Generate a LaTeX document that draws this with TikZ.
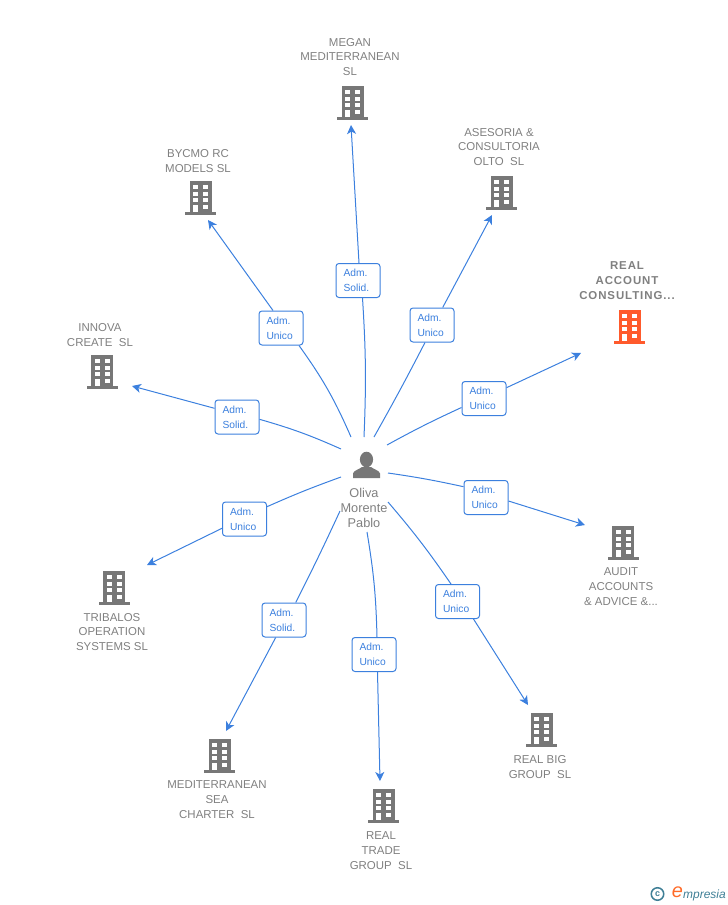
\documentclass[tikz,border=0pt]{standalone}
\usepackage{fontspec}
\setmainfont{Liberation Sans}
\newfontfamily\hotfont[LetterSpace=8]{Liberation Sans}
\usetikzlibrary{positioning}
\usetikzlibrary{arrows.meta}
\definecolor{linkblue}{HTML}{3C80DE}
\definecolor{bldggray}{HTML}{777777}
\definecolor{txtgray}{HTML}{808080}
\definecolor{hotorange}{HTML}{FF5A2C}
\definecolor{logoteal}{HTML}{3F7F96}
\tikzset{
    tagbox/.style = {rectangle, draw=linkblue, line width=1bp, fill=white, rounded corners=3pt, minimum width = 44bp, minimum height = 34bp, inner sep=0pt, text width=29bp, align=left, text=linkblue, font=\fontsize{10.3}{15}\selectfont},
    compname/.style = {align=center, text=txtgray, font=\fontsize{11.5}{15}\selectfont},
    comphot/.style = {align=center, text=txtgray, font=\hotfont\fontsize{11.5}{15}\bfseries\selectfont},
    persname/.style = {align=center, text=txtgray, font=\fontsize{12.8}{15}\selectfont},
    edgep/.style = {linkblue, line width=1bp},
    edgea/.style = {-{Stealth[length=9bp,width=9bp,inset=2.5bp]},linkblue, line width=1bp},
    pics/bldg/.style = {code={
        \fill[#1] (-11,-17) rectangle (11,14);
        \fill[#1] (-15.5,14) rectangle (15.5,17);
        \foreach \wy in {-13,-6.4,0.2}{
            \fill[white] (-7.5,\wy) rectangle (-2.5,\wy+4);
            \fill[white] (2.5,\wy) rectangle (7.5,\wy+4);
        }
        \fill[white] (-7.5,7) rectangle (-2.5,14);
        \fill[white] (2.5,7) rectangle (7.5,11);
    }}
}
\begin{document}
\begin{tikzpicture}[x=1bp,y=-1bp]
\useasboundingbox (0,0) rectangle (728,905);
% companies
\pic at (352.5,103) {bldg=bldggray};
\pic at (501.5,193) {bldg=bldggray};
\pic at (629.5,327) {bldg=hotorange};
\pic at (200.5,198) {bldg=bldggray};
\pic at (102,372) {bldg=bldggray};
\pic at (114,588) {bldg=bldggray};
\pic at (219.5,756) {bldg=bldggray};
\pic at (383.5,806) {bldg=bldggray};
\pic at (541.5,730) {bldg=bldggray};
\pic at (623,543) {bldg=bldggray};
\node[compname] at (350,57) (megan) {MEGAN\\MEDITERRANEAN\\SL};
\node[compname] at (499,147) (asesoria) {ASESORIA \&\\CONSULTORIA\\OLTO~ SL};
\node[comphot] at (627,281) (real) {REAL\\ACCOUNT\\CONSULTING...};
\node[compname] at (198,161) (bycmo) {BYCMO RC\\MODELS SL};
\node[compname] at (100,335) (innova) {INNOVA\\CREATE~ SL};
\node[compname] at (112,632) (tribalos) {TRIBALOS\\OPERATION\\SYSTEMS SL};
\node[compname] at (217,800) (medit) {MEDITERRANEAN\\SEA\\CHARTER~ SL};
\node[compname] at (381,851) (trade) {REAL\\TRADE\\GROUP~ SL};
\node[compname] at (540,767) (big) {REAL BIG\\GROUP~ SL};
\node[compname] at (621,587) (audit) {AUDIT\\ACCOUNTS\\\& ADVICE \&...};
% person
\fill[bldggray] (366.5,459.5) ellipse (6.6 and 7.8);
\fill[bldggray] (353,478) -- (353,473.5) .. controls (353.5,470.5) and (359,469.5) .. (362,467) -- (371,467) .. controls (374,469.5) and (379.5,470.5) .. (380,473.5) -- (380,478) -- cycle;
\node[persname] at (364,508) (oliva) {Oliva\\Morente\\Pablo};
% tags
\node[tagbox] at (358,280.5) (t1) {Adm.\\Solid.};
\node[tagbox] at (432,325) (t2) {Adm.\\Unico};
\node[tagbox] at (484,398.5) (t3) {Adm.\\Unico};
\node[tagbox] at (486,497.5) (t4) {Adm.\\Unico};
\node[tagbox] at (457.5,601.5) (t5) {Adm.\\Unico};
\node[tagbox] at (374,654.5) (t6) {Adm.\\Unico};
\node[tagbox] at (284,620) (t7) {Adm.\\Solid.};
\node[tagbox] at (244.5,519) (t8) {Adm.\\Unico};
\node[tagbox] at (237,417) (t9) {Adm.\\Solid.};
\node[tagbox] at (281,328) (t10) {Adm.\\Unico};
% ends
\coordinate (s1) at (364,437);
\coordinate (s2) at (374,437);
\coordinate (s3) at (387,445);
\coordinate (s4) at (388,473);
\coordinate (s5) at (388,502);
\coordinate (s6) at (367,532);
\coordinate (s7) at (340,511);
\coordinate (s8) at (341,477);
\coordinate (s9) at (341,449);
\coordinate (s10) at (351,437);
\coordinate (e1) at (351,125);
\coordinate (e2) at (492,215);
\coordinate (e3) at (581,353);
\coordinate (e4) at (585,525);
\coordinate (e5) at (528,705);
\coordinate (e6) at (380,781);
\coordinate (e7) at (226,731);
\coordinate (e8) at (147,565);
\coordinate (e9) at (132,386);
\coordinate (e10) at (208,220);
%
\draw[edgep] (s1) to[bend right=3] ([xshift=4.5bp]t1.south);
\draw[edgep] (s2) to[bend right=1] ([xshift=-7bp]t2.south);
\draw[edgep] (s3) to[bend left=2] ([yshift=-9bp]t3.west);
\draw[edgep] (s4) to[bend left=2] ([yshift=10.8bp]t4.west);
\draw[edgep] (s5) to[bend left=3] ([xshift=-6.5bp]t5.north);
\draw[edgep] (s6) to[bend left=4] ([xshift=3bp]t6.north);
\draw[edgep] (s7) to[bend left=1] ([xshift=11.7bp]t7.north);
\draw[edgep] (s8) to[bend right=2] ([yshift=12.3bp]t8.east);
\draw[edgep] (s9) to[bend right=4] ([yshift=-2.3bp]t9.east);
\draw[edgep] (s10) to[bend right=6] ([xshift=18bp]t10.south);
\draw[edgea] ([xshift=1bp]t1.north) -- (e1);
\draw[edgea] ([xshift=10.7bp]t2.north) -- (e2);
\draw[edgea] ([yshift=10.8bp]t3.east) -- (e3);
\draw[edgea] ([yshift=-3.5bp]t4.east) -- (e4);
\draw[edgea] ([xshift=16bp]t5.south) -- (e5);
\draw[edgea] ([xshift=3.5bp]t6.south) -- (e6);
\draw[edgea] ([xshift=-8.3bp]t7.south) -- (e7);
\draw[edgea] ([yshift=-9.3bp]t8.west) -- (e8);
\draw[edgea] ([yshift=8.7bp]t9.west) -- (e9);
\draw[edgea] ([xshift=-8bp]t10.north) -- (e10);
% logo
\node[circle, draw=logoteal, line width=1.5bp, minimum size=12.5bp, inner sep=0pt, text=logoteal, font=\fontsize{9}{9}\bfseries\selectfont] at (657.5,894) (copyr) {c};
\node[inner sep=0pt, text=hotorange!90!yellow, font=\fontsize{20}{20}\itshape\selectfont] at (677.5,892.5) (logoe) {e};
\node[inner sep=0pt, anchor=west, text=logoteal, font=\fontsize{12}{12}\itshape\selectfont] at (683,895) (logot) {mpresia};
\end{tikzpicture}
\end{document}
